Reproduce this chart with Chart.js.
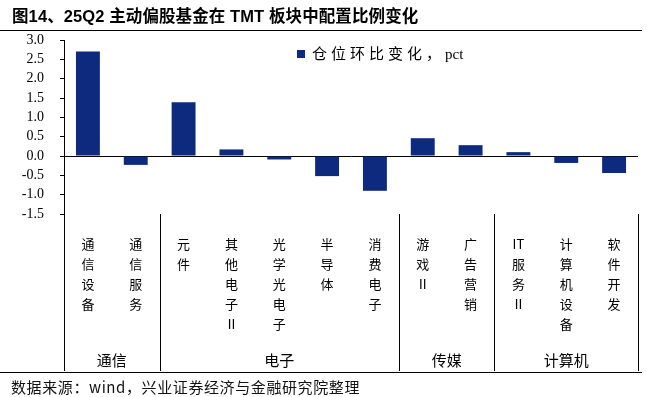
<!DOCTYPE html>
<html><head><meta charset="utf-8">
<script src="https://cdn.jsdelivr.net/npm/chart.js@4"></script>
<style>
body{margin:0;background:#fff;}
#wrap{position:relative;width:647px;height:397px;overflow:hidden;background:#fff;}
canvas{position:absolute;left:0;top:0;}
#title{position:absolute;left:12px;top:3px;font:bold 16.5px "Liberation Sans","Noto Sans CJK SC",sans-serif;color:#000;white-space:nowrap;letter-spacing:0.1px;}
#src{position:absolute;left:11px;top:376px;font:15px "Noto Sans CJK SC",sans-serif;color:#111;white-space:nowrap;letter-spacing:0.6px;}
.hl{position:absolute;left:0;width:642px;height:1px;background:#000;}
</style></head>
<body><div id="wrap">
<canvas id="c" width="647" height="397"></canvas>
<div id="title">图14、25Q2 主动偏股基金在 TMT 板块中配置比例变化</div>
<div class="hl" style="top:30px"></div>
<div class="hl" style="top:372px"></div>
<div id="src">数据来源：wind，兴业证券经济与金融研究院整理</div>
</div>
<script>
const categories = ['通信设备','通信服务','元件','其他电子Ⅱ','光学光电子','半导体','消费电子','游戏Ⅱ','广告营销','IT服务Ⅱ','计算机设备','软件开发'];
const values = [2.70,-0.23,1.39,0.17,-0.09,-0.52,-0.90,0.46,0.28,0.10,-0.18,-0.44];
const seriesName = '仓位环比变化，pct';
const groupNames = ['通信','电子','传媒','计算机'];
const groupSizes = [2,5,2,3];
const yMin = -1.5, yMax = 3.0, yStep = 0.5;
const barColor = '#0d2a7e';

function splitVertical(s){
  const out=[]; let i=0;
  while(i<s.length){
    if(s.substr(i,2)==='IT'){out.push('IT');i+=2;}
    else {out.push(s[i]);i++;}
  }
  return out;
}

const decor = {
  id:'decor',
  afterDraw(chart){
    const ctx=chart.ctx, xs=chart.scales.x, ca=chart.chartArea;
    const n=categories.length, w=(ca.right-ca.left)/n;
    const bottomY=371;
    ctx.save();
    ctx.strokeStyle='#000'; ctx.lineWidth=1;
    let idx=0; const bounds=[0];
    groupSizes.forEach(s=>{idx+=s;bounds.push(idx);});
    bounds.forEach(b=>{
      const x = b<n ? xs.getPixelForValue(b)-w/2 : xs.getPixelForValue(n-1)+w/2;
      const xx=Math.round(x)+0.5;
      ctx.beginPath(); ctx.moveTo(xx, ca.bottom); ctx.lineTo(xx, bottomY); ctx.stroke();
    });
    ctx.fillStyle='#000'; ctx.font='15px "Noto Sans CJK SC", sans-serif';
    ctx.textAlign='center'; ctx.textBaseline='middle';
    for(let g=0; g<groupNames.length; g++){
      const a=bounds[g], b=bounds[g+1];
      const x1 = xs.getPixelForValue(a)-w/2;
      const x2 = b<n ? xs.getPixelForValue(b)-w/2 : xs.getPixelForValue(n-1)+w/2;
      ctx.fillText(groupNames[g], (x1+x2)/2, 360);
    }
    // legend
    ctx.fillStyle=barColor;
    ctx.fillRect(297,50,8,8);
    ctx.fillStyle='#000';
    ctx.font='15px "Liberation Serif", "Noto Sans CJK SC", serif';
    ctx.textAlign='left'; ctx.textBaseline='middle';
    const label=chart.data.datasets[0].label;
    const m=label.search(/[A-Za-z]/);
    const p1 = m>=0 ? label.slice(0,m) : label;
    const p2 = m>=0 ? label.slice(m) : '';
    ctx.letterSpacing='4px';
    ctx.fillText(p1, 312, 55);
    const w1=ctx.measureText(p1).width;
    ctx.letterSpacing='0px';
    ctx.fillText(p2, 312+w1, 55);
    ctx.restore();
  }
};

new Chart(document.getElementById('c'), {
  type:'bar',
  data:{
    labels: categories.map(splitVertical),
    datasets:[{label:seriesName, data:values, backgroundColor:barColor, barPercentage:0.5, categoryPercentage:1.0}]
  },
  options:{
    responsive:false, animation:false, devicePixelRatio:1,
    layout:{padding:{top:40,bottom:27,left:0,right:9}},
    plugins:{legend:{display:false}, tooltip:{enabled:false}, title:{display:false}},
    scales:{
      x:{
        grid:{display:false, drawTicks:false},
        border:{display:false},
        ticks:{padding:20, autoSkip:false, maxRotation:0, minRotation:0, color:'#000',
          font:{family:'"Noto Sans CJK SC", sans-serif', size:13, lineHeight:'20px'}},
        afterFit(s){ s.height=156; }
      },
      y:{
        min:yMin, max:yMax,
        grid:{drawOnChartArea:true, color:c=>(c.tick && c.tick.value===0)?'#000':'rgba(0,0,0,0)', tickColor:'#000', tickLength:4, lineWidth:1},
        border:{display:true, color:'#000', width:1},
        ticks:{stepSize:yStep, autoSkip:false, padding:16, color:'#000', callback:v=>Number(v).toFixed(1),
          font:{family:'"Liberation Serif", serif', size:14}},
        afterFit(s){ s.width=64; }
      }
    }
  },
  plugins:[decor]
});
</script>
</body></html>
